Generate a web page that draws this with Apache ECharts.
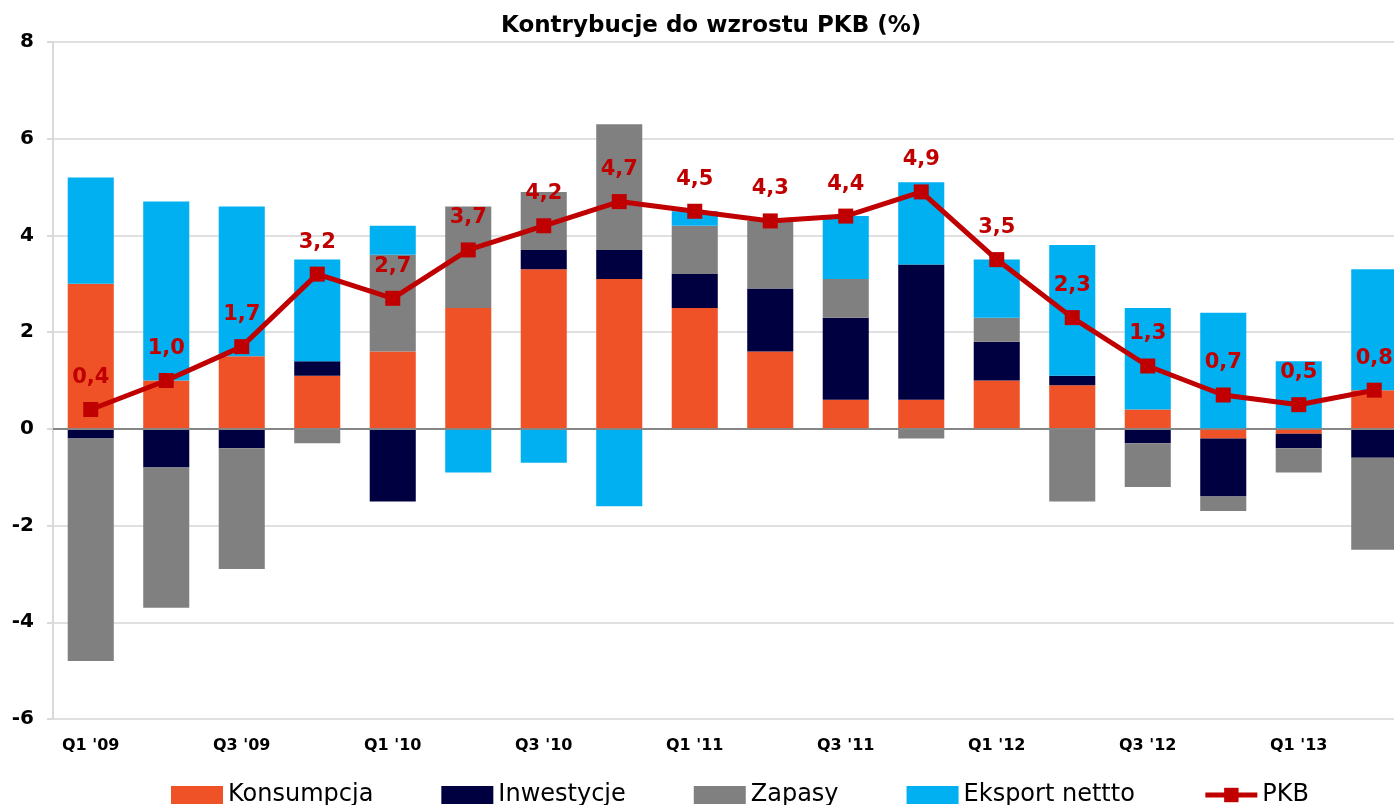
<!DOCTYPE html>
<html lang="pl">
<head>
    <meta charset="UTF-8">
    <title>Kontrybucje do wzrostu PKB</title>
    <style>
        body { margin: 0; overflow: hidden; background: #fff; }
        /* wykres jest szerszy od okna, prawa krawedz jest ucieta jak w oryginale */
        #main { width: 1412px; height: 805px; }
    </style>
</head>
<body>
<div id="main"></div>

<script src="https://cdn.jsdelivr.net/npm/echarts@6/dist/echarts.min.js"></script>
<script>
    // kwartaly
    let quarters = ["Q1 '09", "Q2 '09", "Q3 '09", "Q4 '09", "Q1 '10", "Q2 '10", "Q3 '10", "Q4 '10", "Q1 '11",
        "Q2 '11", "Q3 '11", "Q4 '11", "Q1 '12", "Q2 '12", "Q3 '12", "Q4 '12", "Q1 '13", "Q2 '13"];

    // kontrybucje (pkt proc.)
    let konsumpcja = [3.0, 1.0, 1.5, 1.1, 1.6, 2.5, 3.3, 3.1, 2.5, 1.6, 0.6, 0.6, 1.0, 0.9, 0.4, -0.2, -0.1, 0.8];
    let inwestycje = [-0.2, -0.8, -0.4, 0.3, -1.5, 0, 0.4, 0.6, 0.7, 1.3, 1.7, 2.8, 0.8, 0.2, -0.3, -1.2, -0.3, -0.6];
    let zapasy = [-4.6, -2.9, -2.5, -0.3, 2.0, 2.1, 1.2, 2.6, 1.0, 1.4, 0.8, -0.2, 0.5, -1.5, -0.9, -0.3, -0.5, -1.9];
    let eksport = [2.2, 3.7, 3.1, 2.1, 0.6, -0.9, -0.7, -1.6, 0.3, 0, 1.3, 1.7, 1.2, 2.7, 2.1, 2.4, 1.4, 2.5];
    let pkb = [0.4, 1.0, 1.7, 3.2, 2.7, 3.7, 4.2, 4.7, 4.5, 4.3, 4.4, 4.9, 3.5, 2.3, 1.3, 0.7, 0.5, 0.8];

    let font = 'DejaVu Sans';
    let myChart = echarts.init(document.getElementById('main'));

    let barSeries = (name, data, color) => {
        return {
            name: name,
            type: 'bar',
            stack: 'pkb',
            barWidth: '61%',
            itemStyle: {color: color},
            data: data
        }
    };

    let option = {
        animation: false,
        title: {
            text: 'Kontrybucje do wzrostu PKB (%)',
            left: 496,
            top: 10,
            textStyle: {fontFamily: font, fontSize: 23, fontWeight: 'bold', color: '#000'}
        },
        legend: {
            left: 166,
            top: 778,
            itemWidth: 52,
            itemHeight: 18,
            itemGap: 68,
            textStyle: {fontFamily: font, fontSize: 24, color: '#000'},
            data: [
                {name: 'Konsumpcja', icon: 'rect'},
                {name: 'Inwestycje', icon: 'rect'},
                {name: 'Zapasy', icon: 'rect'},
                {name: 'Eksport nettto', icon: 'rect'},
                {name: 'PKB', lineStyle: {width: 5}}
            ]
        },
        grid: {left: 53, right: 0, top: 42, bottom: 86},
        xAxis: {
            type: 'category',
            data: quarters,
            axisLine: {show: false},
            axisTick: {show: false},
            axisLabel: {
                interval: 1,
                margin: 19,
                fontFamily: font,
                fontSize: 16,
                fontWeight: 'bold',
                color: '#000'
            }
        },
        yAxis: {
            type: 'value',
            min: -6,
            max: 8,
            interval: 2,
            axisLine: {show: true, lineStyle: {color: '#d9d9d9', width: 2}},
            axisTick: {show: true, length: 6, lineStyle: {color: '#d9d9d9', width: 2}},
            splitLine: {lineStyle: {color: '#e0e0e0', width: 2}},
            axisLabel: {margin: 19, fontFamily: font, fontSize: 20, fontWeight: 'bold', color: '#000'}
        },
        series: [
            Object.assign(barSeries('Konsumpcja', konsumpcja, '#f05228'), {
                // linia zera
                markLine: {
                    silent: true,
                    symbol: 'none',
                    label: {show: false},
                    lineStyle: {color: '#868686', width: 2, type: 'solid'},
                    data: [{yAxis: 0}]
                }
            }),
            barSeries('Inwestycje', inwestycje, '#000040'),
            barSeries('Zapasy', zapasy, '#808080'),
            barSeries('Eksport nettto', eksport, '#00b0f0'),
            {
                name: 'PKB',
                type: 'line',
                data: pkb,
                z: 5,
                symbol: 'rect',
                symbolSize: 15,
                lineStyle: {color: '#c00000', width: 5},
                itemStyle: {color: '#c00000'},
                label: {
                    show: true,
                    position: 'top',
                    distance: 14,
                    fontFamily: font,
                    fontSize: 21,
                    fontWeight: 'bold',
                    color: '#c00000',
                    formatter: (p) => p.value.toFixed(1).replace('.', ',')
                }
            }
        ]
    };
    myChart.setOption(option);
</script>
</body>
</html>
